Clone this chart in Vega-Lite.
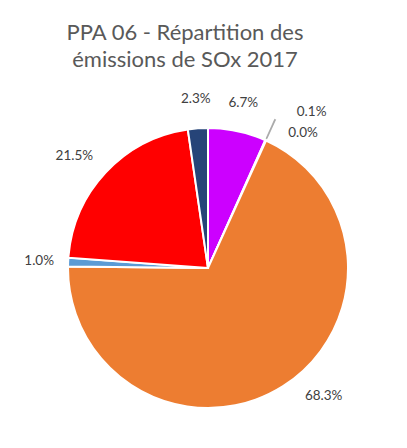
{
  "$schema": "https://vega.github.io/schema/vega-lite/v6.json",
  "width": 406,
  "height": 530,
  "autosize": "none",
  "padding": {"left": 5, "top": 3, "right": 0, "bottom": 0},
  "background": "white",
  "config": {"view": {"stroke": "#d9d9d9", "strokeWidth": 1.5}},
  "title": {
    "text": ["PPA 06 - Répartition des", "émissions de SOx 2017"],
    "font": "Lato",
    "fontSize": 22,
    "fontWeight": "normal",
    "color": "#595959",
    "anchor": "middle",
    "frame": "group",
    "dx": -23,
    "dy": 57,
    "baseline": "top",
    "offset": -12,
    "lineHeight": 27
  },
  "data": {
    "values": [
      {"secteur": "Secteur A", "part": 0.067, "n": 1},
      {"secteur": "Secteur B", "part": 0.001, "n": 2},
      {"secteur": "Secteur C", "part": 0.0, "n": 3},
      {"secteur": "Secteur D", "part": 0.683, "n": 4},
      {"secteur": "Secteur E", "part": 0.010, "n": 5},
      {"secteur": "Secteur F", "part": 0.215, "n": 6},
      {"secteur": "Secteur G", "part": 0.023, "n": 7}
    ]
  },
  "encoding": {
    "theta": {"field": "part", "type": "quantitative", "stack": true},
    "order": {"field": "n", "type": "quantitative"},
    "color": {
      "field": "secteur",
      "type": "nominal",
      "legend": null,
      "scale": {
        "domain": ["Secteur A", "Secteur B", "Secteur C", "Secteur D", "Secteur E", "Secteur F", "Secteur G"],
        "range": ["#CC00FF", "#A5A5A5", "#FFC000", "#ED7D31", "#5B9BD5", "#FF0000", "#264478"]
      }
    }
  },
  "layer": [
    {
      "mark": {"type": "arc", "outerRadius": 140, "stroke": "white", "strokeWidth": 2}
    },
    {
      "mark": {"type": "arc", "radius": 142, "radius2": 163, "stroke": "#A6A6A6", "strokeWidth": 0.8},
      "encoding": {
        "color": {"value": "#A6A6A6"},
        "opacity": {"condition": {"test": "datum.n == 2", "value": 1}, "value": 0}
      }
    },
    {
      "mark": {"type": "text", "radius": 169, "font": "Lato", "fontSize": 13.5},
      "encoding": {
        "text": {"condition": {"test": "datum.n == 1 || datum.n == 5 || datum.n == 7", "field": "part", "format": ".1%"}, "value": ""},
        "color": {"value": "#404040"}
      }
    },
    {
      "mark": {"type": "text", "radius": 169, "dx": -10, "dy": 3, "font": "Lato", "fontSize": 13.5},
      "encoding": {
        "text": {"condition": {"test": "datum.n == 6", "field": "part", "format": ".1%"}, "value": ""},
        "color": {"value": "#404040"}
      }
    },
    {
      "mark": {"type": "text", "radius": 169, "dx": 25, "dy": -15, "font": "Lato", "fontSize": 13.5},
      "encoding": {
        "text": {"condition": {"test": "datum.n == 4", "field": "part", "format": ".1%"}, "value": ""},
        "color": {"value": "#404040"}
      }
    },
    {
      "mark": {"type": "text", "radius": 169, "dx": 34, "dy": -2, "font": "Lato", "fontSize": 13.5},
      "encoding": {
        "text": {"condition": {"test": "datum.n == 2", "field": "part", "format": ".1%"}, "value": ""},
        "color": {"value": "#404040"}
      }
    },
    {
      "mark": {"type": "text", "radius": 169, "dx": 25, "dy": 19, "font": "Lato", "fontSize": 13.5},
      "encoding": {
        "text": {"condition": {"test": "datum.n == 3", "field": "part", "format": ".1%"}, "value": ""},
        "color": {"value": "#404040"}
      }
    }
  ]
}
